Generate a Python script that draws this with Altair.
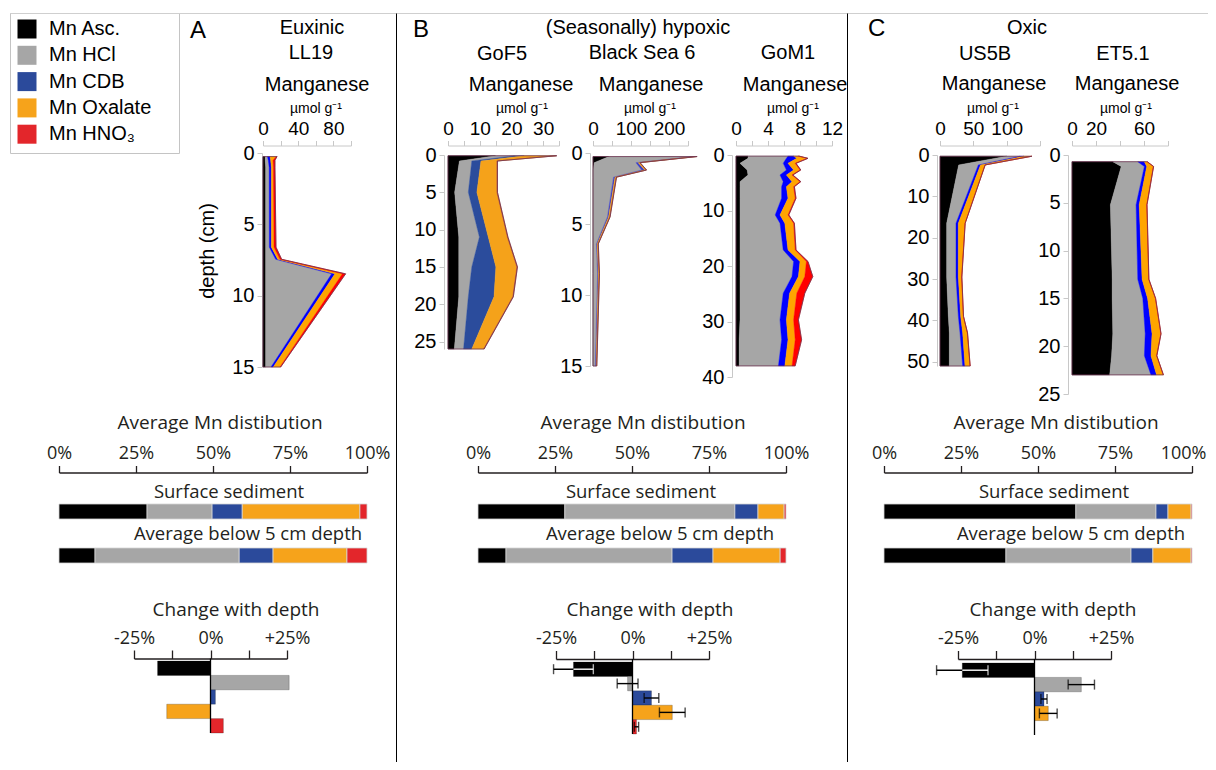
import altair as alt
import pandas as pd

OFF = 8.0  # page margin: view coords = page coords - OFF

FRACS = ["Mn Asc.", "Mn HCl", "Mn CDB", "Mn Oxalate", "Mn HNO\u2083"]
LEG_COLORS = ["#000000", "#a6a6a6", "#2b4a9b", "#f6a31b", "#e3262b"]
BRIGHT = ["#000000", "#a6a6a6", "#0000ff", "#ffa500", "#ff0000"]
GOF5_COL = ["#000000", "#a6a6a6", "#2b4c9c", "#f5a21a", "#b5452a"]
BS6_COL = ["#000000", "#a6a6a6", "#3a3fc8", "#f5a21a", "#b5452a"]

# ---------------- depth profiles (umol/g per fraction) ----------------
ll19_depth = [0.25, 0.5, 1.0, 6.6, 7.45, 8.47, 15.0]
ll19_asc = [2.5, 2.5, 3.0, 3.0, 3.0, 3.0, 3.0]
ll19_hcl = [2.5, 3.5, 4.0, 4.2, 11.4, 75.0, 6.1]
ll19_cdb = [3.0, 2.7, 2.5, 2.3, 2.3, 3.8, 2.6]
ll19_ox = [7.0, 2.7, 2.3, 3.0, 2.6, 8.4, 7.6]
ll19_hno3 = [1.0, 2.2, 1.8, 2.3, 1.9, 3.7, 0.8]

gof5_depth = [0.1, 0.8, 5.0, 11.0, 15.0, 19.0, 26.0]
gof5_asc = [15.0, 3.6, 2.1, 3.4, 3.4, 3.4, 2.0]
gof5_hcl = [6.0, 3.9, 4.3, 6.5, 4.1, 3.0, 2.9]
gof5_cdb = [3.0, 2.9, 2.7, 2.8, 7.6, 8.1, 2.6]
gof5_ox = [10.0, 5.0, 6.3, 6.0, 6.6, 5.9, 3.7]
gof5_hno3 = [0.3, 0.2, 0.2, 0.2, 0.2, 0.2, 0.2]

bs6_depth = [0.25, 0.68, 1.2, 1.7, 4.5, 6.4, 8.5, 15.0]
bs6_asc = [42, 3, 1, 1, 1, 1, 1, 1]
bs6_hcl = [222, 110, 127, 53, 37, 8, 11, 5]
bs6_cdb = [4, 6, 8, 4, 3, 2, 2, 2]
bs6_ox = [4, 4, 4, 3, 3, 2, 2, 1.5]
bs6_hno3 = [2, 1, 1, 1, 1, 1, 1, 0.5]

gom1_depth = [0.2, 0.6, 1.5, 2.7, 3.6, 4.8, 5.7, 7.8, 10.8, 12.3, 17.1, 19.2, 21.9, 24.9, 29.7, 33.3, 38.0]
gom1_asc = [1.5, 1.5, 0.5, 1.4, 1.5, 0.5, 0.5, 0.5, 0.5, 0.5, 0.5, 0.5, 0.5, 0.5, 0.5, 0.4, 0.4]
gom1_hcl = [5.0, 4.8, 5.4, 4.9, 4.0, 5.4, 5.2, 5.2, 4.4, 5.0, 5.4, 6.7, 6.5, 5.4, 5.0, 5.3, 4.9]
gom1_cdb = [0.7, 1.3, 0.6, 0.9, 0.8, 1.1, 0.6, 0.8, 0.6, 0.6, 0.6, 0.8, 0.8, 0.8, 0.8, 0.8, 0.8]
gom1_ox = [0.6, 1.3, 0.9, 0.8, 0.7, 1.0, 0.9, 0.9, 1.0, 1.1, 0.9, 0.8, 0.8, 0.9, 0.9, 0.9, 0.9]
gom1_hno3 = [0.1, 0.1, 0.1, 0.1, 0.1, 0.1, 0.1, 0.1, 0.1, 0.1, 0.1, 0.2, 1.0, 1.0, 0.6, 0.8, 0.4]

us5b_depth = [0.3, 2.4, 16.5, 29.5, 39.0, 43.0, 51.0]
us5b_asc = [100, 28, 10, 10, 12.5, 14, 14]
us5b_hcl = [20, 29.5, 14, 14, 15, 16, 20]
us5b_cdb = [6, 3.3, 3.5, 3.5, 3.5, 4, 3.5]
us5b_ox = [11.5, 6.7, 10, 5, 4, 7, 7.5]
us5b_hno3 = [0.3, 0.3, 0.3, 0.3, 0.3, 0.3, 0.3]

et51_depth = [0.7, 1.2, 5.2, 13.0, 15.0, 18.7, 21.0, 23.0]
et51_asc = [34, 41, 32, 33.5, 33.5, 34, 33, 31.4]
et51_hcl = [20.8, 19.3, 21.4, 21.3, 25.5, 27, 27.3, 34.4]
et51_cdb = [5.5, 2.0, 2.6, 3.6, 4.0, 5.7, 5.5, 4.7]
et51_ox = [2.2, 5.5, 6.3, 5.5, 6.5, 7.3, 4.7, 5.5]
et51_hno3 = [0.2, 0.2, 0.2, 0.2, 0.2, 0.2, 0.2, 0.2]

# ---------------- average distribution (%) ----------------
a_surface = [28.6, 21.1, 9.8, 38.2, 2.3]
a_below = [11.7, 46.8, 11.0, 24.0, 6.5]
b_surface = [28.2, 55.2, 7.5, 8.5, 0.6]
b_below = [9.1, 53.9, 13.3, 21.8, 1.9]
c_surface = [62.3, 26.0, 3.9, 7.5, 0.3]
c_below = [39.6, 40.6, 7.1, 12.4, 0.3]

# ---------------- change with depth (%) ----------------
a_change = [-17.3, 25.7, 1.6, -14.3, 4.2]
b_change = [-19.3, -1.6, 6.2, 13.0, 1.3]
b_err = [6.5, 3.4, 2.4, 4.2, 0.7]
c_change = [-23.6, 15.3, 3.1, 4.5, 0.0]
c_err = [8.4, 4.3, 1.0, 2.9, 0.0]

AX_GRAY = "#c8c8c8"
ARIAL = "Liberation Sans"
MYR = "Open Sans"
TXT = "#231f20"
ONE = pd.DataFrame({"k": [0]})


def px(v):
    return v - OFF


def lab_expr(vals):
    return "indexof([%s], datum.value) >= 0 ? datum.label : ''" % ",".join(str(v) for v in vals)


LEG = alt.Legend(orient="none", legendX=9, legendY=11, title=None, direction="vertical",
                 symbolType="square", symbolSize=361, symbolStrokeWidth=0,
                 labelFont=ARIAL, labelFontSize=20, labelColor="black",
                 labelOffset=12, rowPadding=6.3, padding=0)
COLOR_SCALE = alt.Scale(domain=FRACS, range=LEG_COLORS)


def txt(s, x, y, size, font=ARIAL, align="center", color="black", angle=0):
    return alt.Chart(ONE).mark_text(text=s, fontSize=size, font=font, align=align,
                                    baseline="alphabetic", color=color, angle=angle).encode(
        x=alt.value(px(x)), y=alt.value(px(y)))


def hrule(x0, x1, y, color, w=1.0):
    return alt.Chart(ONE).mark_rule(color=color, strokeWidth=w).encode(
        x=alt.value(px(x0)), x2=alt.value(px(x1)), y=alt.value(px(y)))


def vrule(x, y0, y1, color, w=1.0):
    return alt.Chart(ONE).mark_rule(color=color, strokeWidth=w).encode(
        x=alt.value(px(x)), y=alt.value(px(y0)), y2=alt.value(px(y1)))


def profile(depth, comps, colors, xdom, xr, xticks, xlabs, ydom, yr, yticks, yaxis_x, xaxis_y=145.5):
    rows = []
    for i, d in enumerate(depth):
        c = 0.0
        for f, arr in zip(FRACS, comps):
            rows.append({"depth": d, "frac": f, "lo": c, "hi": c + arr[i]})
            c += arr[i]
    df = pd.DataFrame(rows)
    tot = df.groupby("depth", as_index=False)["hi"].max()
    tot["zero"] = 0.0
    xs = alt.Scale(domain=xdom, range=[px(xr[0]), px(xr[1])], nice=False, zero=False)
    ys = alt.Scale(domain=ydom, range=[px(yr[0]), px(yr[1])], nice=False, zero=False)
    xa = alt.Axis(orient="top", offset=-px(xaxis_y), values=xticks, labelExpr=lab_expr(xlabs),
                  title=None, grid=False, domainColor=AX_GRAY, tickColor=AX_GRAY, tickSize=5,
                  labelPadding=2, labelFont=ARIAL, labelFontSize=19, labelColor="black",
                  labelOverlap=False, labelFlush=False)
    ya = alt.Axis(orient="left", offset=-px(yaxis_x), values=yticks, title=None, grid=False,
                  domainColor=AX_GRAY, tickColor=AX_GRAY, tickSize=5, labelPadding=3,
                  labelFont=ARIAL, labelFontSize=20, labelColor="black", labelOverlap=False)
    layers = []
    for f, col in zip(FRACS, colors):
        layers.append(
            alt.Chart(df).transform_filter(alt.datum.frac == f)
            .mark_area(orient="horizontal", color=col, stroke=col, strokeWidth=0.4)
            .encode(x=alt.X("lo:Q", scale=xs, axis=xa), x2=alt.X2("hi:Q"),
                    y=alt.Y("depth:Q", scale=ys, axis=ya)))
    layers.append(
        alt.Chart(tot).mark_area(orient="horizontal", fill="white", fillOpacity=0,
                                 stroke="#6d3350", strokeWidth=0.8)
        .encode(x=alt.X("zero:Q", scale=xs, axis=xa), x2=alt.X2("hi:Q"),
                y=alt.Y("depth:Q", scale=ys, axis=ya)))
    return alt.layer(*layers)


def dist(surface, below, x0, x1, axis_y=472.5, last_shift=0):
    rows = []
    for rname, arr in (("Surface", surface), ("Below", below)):
        for k, (f, v) in enumerate(zip(FRACS, arr)):
            rows.append({"row": rname, "frac": f, "idx": k, "value": v})
    df = pd.DataFrame(rows)
    xs = alt.Scale(domain=[0, 100], range=[px(x0), px(x1)], nice=False, zero=False)
    ys = alt.Scale(domain=["Surface", "Below"], range=[px(504), px(563)], paddingInner=0.659, paddingOuter=0)
    extra = {}
    if last_shift:
        extra["labelOffset"] = {"condition": {"test": "datum.value == 100", "value": last_shift}, "value": 0}
    xa = alt.Axis(orient="top", offset=-px(axis_y), values=[0, 25, 50, 75, 100],
                  labelExpr="datum.value + '%'", title=None, grid=False,
                  domainColor=TXT, tickColor=TXT, domainWidth=1.3, tickWidth=1.3, tickSize=7,
                  labelPadding=3, labelFont=MYR, labelFontSize=18, labelColor=TXT,
                  labelOverlap=False, labelFlush=False, **extra)
    return alt.Chart(df).mark_bar(stroke="#d4d4d4", strokeWidth=0.8).encode(
        x=alt.X("value:Q", stack="zero", scale=xs, axis=xa),
        y=alt.Y("row:N", scale=ys, axis=None),
        color=alt.Color("frac:N", scale=COLOR_SCALE, legend=LEG),
        order=alt.Order("idx:Q"))


def change(vals, errs, xm, xp, axis_y, band):
    df = pd.DataFrame({"frac": FRACS, "v": vals})
    xs = alt.Scale(domain=[-25, 25], range=[px(xm), px(xp)], nice=False, zero=False)
    ys = alt.Scale(domain=FRACS, range=[px(band[0]), px(band[1])], paddingInner=0, paddingOuter=0)
    xa = alt.Axis(orient="top", offset=-px(axis_y), values=[-25, -12.5, 0, 12.5, 25],
                  labelExpr="datum.value == 0 ? '0%' : (datum.value == 25 ? '+25%' : (datum.value == -25 ? '-25%' : ''))",
                  title=None, grid=False, domainColor=TXT, tickColor=TXT, domainWidth=1.3,
                  tickWidth=1.3, tickSize=8.5, labelPadding=3, labelFont=MYR, labelFontSize=18,
                  labelColor=TXT, labelOverlap=False, labelFlush=False)
    ya = None
    layers = [
        alt.Chart(df).mark_bar(stroke="black", strokeOpacity=0.22, strokeWidth=1).encode(
            x=alt.X("v:Q", scale=xs, axis=xa), x2=alt.X2(datum=0),
            y=alt.Y("frac:N", scale=ys, axis=ya),
            color=alt.Color("frac:N", scale=COLOR_SCALE, legend=LEG)),
        alt.Chart(ONE).mark_rule(color="black", strokeWidth=1.3).encode(
            x=alt.X(datum=0, scale=xs, axis=xa),
            y=alt.value(px(axis_y)), y2=alt.value(px(band[1]))),
    ]
    if errs is not None:
        erows, wrows = [], []
        for f, v, e in zip(FRACS, vals, errs):
            if e <= 0:
                continue
            erows.append({"frac": f, "lo": v - e, "hi": v + e})
            if f == FRACS[0] and v < 0:
                wrows.append({"frac": f, "lo": v, "hi": min(v + e, 0.0)})
        edf = pd.DataFrame(erows)
        layers.append(alt.Chart(edf).mark_rule(color="black", strokeWidth=1.4).encode(
            x=alt.X("lo:Q", scale=xs, axis=xa), x2=alt.X2("hi:Q"), y=alt.Y("frac:N", scale=ys, axis=ya)))
        for fld in ("lo", "hi"):
            layers.append(alt.Chart(edf).mark_tick(color="black", thickness=1.4, size=10).encode(
                x=alt.X(fld + ":Q", scale=xs, axis=xa), y=alt.Y("frac:N", scale=ys, axis=ya)))
        if wrows:
            wdf = pd.DataFrame(wrows)
            layers.append(alt.Chart(wdf).mark_rule(color="white", strokeWidth=1.4).encode(
                x=alt.X("lo:Q", scale=xs, axis=xa), x2=alt.X2("hi:Q"), y=alt.Y("frac:N", scale=ys, axis=ya)))
            layers.append(alt.Chart(wdf).mark_tick(color="white", thickness=1.4, size=10).encode(
                x=alt.X("hi:Q", scale=xs, axis=xa), y=alt.Y("frac:N", scale=ys, axis=ya)))
    return alt.layer(*layers)


layers = []
# frame
layers.append(alt.Chart(ONE).mark_rect(fill="white", fillOpacity=0, stroke="#c4c4c4", strokeWidth=1).encode(
    x=alt.value(px(10.5)), x2=alt.value(px(179.5)), y=alt.value(px(13.5)), y2=alt.value(px(153.5))))
layers.append(hrule(10, 1216, 13.5, "#cfcfcf"))
layers.append(vrule(396.5, 13.5, 770, "black"))
layers.append(vrule(847.5, 13.5, 770, "black"))

# panel texts
for s, x, y, sz, al in [
    ("A", 190, 37.5, 24, "left"), ("Euxinic", 312, 34.3, 20, "center"), ("LL19", 311, 59.3, 20, "center"),
    ("Manganese", 317, 90.7, 20, "center"), ("\u00b5mol g\u207b\u00b9", 316, 113.3, 14, "center"),
    ("B", 413, 36.5, 24, "left"), ("(Seasonally) hypoxic", 638, 34.3, 20, "center"),
    ("GoF5", 502, 60, 20, "center"), ("Black Sea 6", 642, 58.5, 20, "center"), ("GoM1", 788, 59, 20, "center"),
    ("Manganese", 521, 90.7, 20, "center"), ("Manganese", 651, 90.7, 20, "center"), ("Manganese", 795, 90.7, 20, "center"),
    ("\u00b5mol g\u207b\u00b9", 522, 113.3, 14, "center"), ("\u00b5mol g\u207b\u00b9", 650, 113.3, 14, "center"),
    ("\u00b5mol g\u207b\u00b9", 793, 113.3, 14, "center"),
    ("C", 868, 35.5, 24, "left"), ("Oxic", 1027, 34.3, 20, "center"),
    ("US5B", 985, 60, 20, "center"), ("ET5.1", 1123, 60, 20, "center"),
    ("Manganese", 994, 90.3, 20, "center"), ("Manganese", 1127, 90.3, 20, "center"),
    ("\u00b5mol g\u207b\u00b9", 993, 113.3, 14, "center"), ("\u00b5mol g\u207b\u00b9", 1126, 113.3, 14, "center"),
]:
    layers.append(txt(s, x, y, sz, align=al))
layers.append(txt("depth (cm)", 214, 251, 20, angle=270))

for cx in [(220, 229, 248, 236), (643, 641, 660, 650), (1056, 1054, 1071, 1053)]:
    layers.append(txt("Average Mn distibution", cx[0], 428.5, 19, font=MYR, color=TXT))
    layers.append(txt("Surface sediment", cx[1], 497.5, 18.5, font=MYR, color=TXT))
    layers.append(txt("Average below 5 cm depth", cx[2], 539.5, 18.5, font=MYR, color=TXT))
    layers.append(txt("Change with depth", cx[3], 616, 19, font=MYR, color=TXT))

# profiles
layers.append(profile(ll19_depth, [ll19_asc, ll19_hcl, ll19_cdb, ll19_ox, ll19_hno3], BRIGHT,
                      [0, 100], (263, 351), [0, 20, 40, 60, 80, 100], [0, 40, 80],
                      [0, 15], (153, 367), [0, 5, 10, 15], 262))
layers.append(profile(gof5_depth, [gof5_asc, gof5_hcl, gof5_cdb, gof5_ox, gof5_hno3], GOF5_COL,
                      [0, 35], (448, 559), [0, 5, 10, 15, 20, 25, 30, 35], [0, 10, 20, 30],
                      [0, 26], (155, 349), [0, 5, 10, 15, 20, 25], 444))
layers.append(profile(bs6_depth, [bs6_asc, bs6_hcl, bs6_cdb, bs6_ox, bs6_hno3], BS6_COL,
                      [0, 250], (593, 688), [0, 50, 100, 150, 200, 250], [0, 100, 200],
                      [0, 15], (153, 366), [0, 5, 10, 15], 590))
layers.append(profile(gom1_depth, [gom1_asc, gom1_hcl, gom1_cdb, gom1_ox, gom1_hno3], BRIGHT,
                      [0, 12], (736, 832), [0, 2, 4, 6, 8, 10, 12], [0, 4, 8, 12],
                      [0, 40], (155, 377), [0, 10, 20, 30, 40], 732))
layers.append(profile(us5b_depth, [us5b_asc, us5b_hcl, us5b_cdb, us5b_ox, us5b_hno3], BRIGHT,
                      [0, 150], (940, 1040), [0, 50, 100, 150], [0, 50, 100],
                      [0, 51], (155, 366), [0, 10, 20, 30, 40, 50], 937))
layers.append(profile(et51_depth, [et51_asc, et51_hcl, et51_cdb, et51_ox, et51_hno3], BRIGHT,
                      [0, 80], (1072, 1168), [0, 20, 40, 60, 80], [0, 20, 60],
                      [0, 25], (155, 394), [0, 5, 10, 15, 20, 25], 1068))

# distributions
layers.append(dist(a_surface, a_below, 59, 367))
layers.append(dist(b_surface, b_below, 478, 786))
layers.append(dist(c_surface, c_below, 884, 1192, last_shift=-9))

# change with depth
layers.append(change(a_change, None, 134, 287, 658.5, (661, 733)))
layers.append(change(b_change, b_err, 556, 709, 659, (662, 734)))
layers.append(change(c_change, c_err, 958, 1111, 659, (663, 735)))

chart = alt.layer(*layers).resolve_scale(x="independent", y="independent").properties(
    width=1200, height=754, padding=0, autosize=alt.AutoSizeParams(type="none")
).configure_view(stroke=None)

chart.save("out.html", embed_options={"renderer": "svg", "actions": False})
